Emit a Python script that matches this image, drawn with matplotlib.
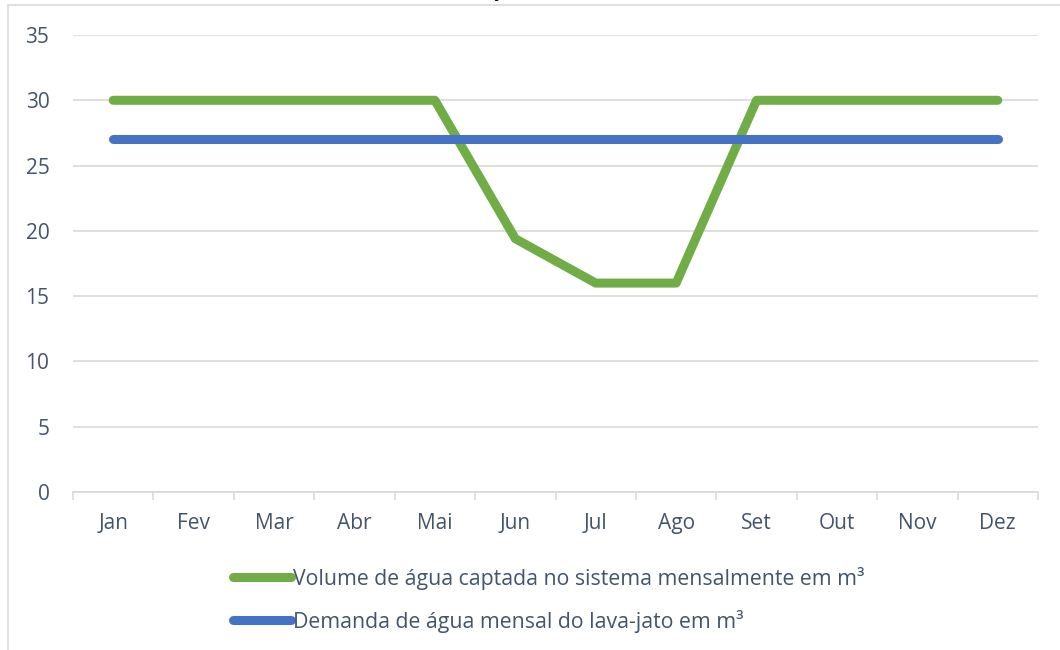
import numpy as np
import matplotlib.pyplot as plt
from matplotlib.patches import Rectangle

meses = ["Jan", "Fev", "Mar", "Abr", "Mai", "Jun", "Jul", "Ago", "Set", "Out", "Nov", "Dez"]
volume_captado = [30, 30, 30, 30, 30, 19.4, 16, 16, 30, 30, 30, 30]
demanda = [27, 27, 27, 27, 27, 27, 27, 27, 27, 27, 27, 27]
rotulo_volume = "Volume de água captada no sistema mensalmente em m³"
rotulo_demanda = "Demanda de água mensal do lava-jato em m³"

plt.rcParams['font.family'] = ['Open Sans', 'DejaVu Sans']
txt = '#44546A'
grid = '#D9D9D9'

fig = plt.figure(figsize=(10.6, 6.5), dpi=100)
ax = fig.add_axes([73/1060, 1-492/650, (1038-73)/1060, (492-35)/650])

x = np.arange(len(meses))
ax.plot(x, volume_captado, color='#70AD47', lw=6.5, solid_capstyle='round', solid_joinstyle='round',
        label=rotulo_volume, zorder=3)
ax.plot(x, demanda, color='#4472C4', lw=6.5, solid_capstyle='round', label=rotulo_demanda, zorder=3)

ax.set_xlim(-0.5, len(meses) - 0.5)
ax.set_ylim(0, 35)
ax.set_yticks(range(0, 36, 5))
ax.set_xticks(x)
ax.set_xticklabels(meses)
ax.set_xticks(np.arange(-0.5, len(meses), 1), minor=True)
ax.yaxis.grid(True, color=grid, lw=1.2)
ax.set_axisbelow(True)
for s in ['top', 'right', 'left']:
    ax.spines[s].set_visible(False)
ax.spines['bottom'].set_color(grid)
ax.spines['bottom'].set_linewidth(1.2)
ax.tick_params(axis='x', which='major', length=0, pad=15, labelsize=15, labelcolor=txt)
ax.tick_params(axis='x', which='minor', length=6, color=grid, width=1.2)
ax.tick_params(axis='y', length=0, pad=17, labelsize=15, labelcolor=txt)

# moldura da area do grafico
fig.patches.append(Rectangle((8/1060, -0.1), 1.2, 1 - 5/650 + 0.1, transform=fig.transFigure,
                             fill=False, edgecolor=grid, lw=1.2))
# titulo cortado no topo
fig.text(512/1060, 1 + 3/650, "jato", ha='center', va='baseline', fontsize=14, color='black')

fig.legend(loc='upper left', bbox_to_anchor=(224/1060, 1-558/650), frameon=False,
           fontsize=15.3, labelcolor=txt, handlelength=2.75, handletextpad=0.08,
           labelspacing=0.95, borderaxespad=0)

fig.savefig('out.png', dpi=100)
